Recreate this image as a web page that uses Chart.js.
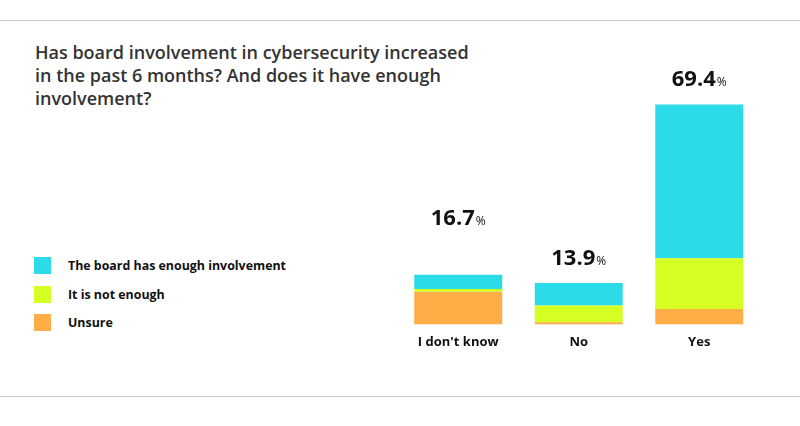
<!DOCTYPE html>
<html>
<head>
<meta charset="utf-8">
<script src="https://cdn.jsdelivr.net/npm/chart.js@4/dist/chart.umd.min.js"></script>
<style>
  html, body { margin: 0; padding: 0; background: #fff; }
  #wrap { position: relative; width: 800px; height: 426px; overflow: hidden; font-family: "Open Sans", Lato, sans-serif; }
  #c { position: absolute; left: 0; top: 0; }
  .rule { position: absolute; left: 0; width: 800px; height: 1px; background: #c8c8c8; }
  #title { position: absolute; left: 35px; top: 41px; font-size: 18px; line-height: 23px; color: #333; font-weight: 600; width: 445px; }
  #legend { position: absolute; left: 34px; top: 257px; }
  .li { position: relative; height: 28.7px; }
  .sw { position: absolute; left: 0; top: 0; width: 17px; height: 17px; }
  .lt { position: absolute; left: 34px; top: 0; line-height: 17px; font-size: 12.4px; font-weight: 700; color: #111; white-space: nowrap; }
</style>
</head>
<body>
<div id="wrap">
  <div class="rule" style="top:20px"></div>
  <div class="rule" style="top:396px"></div>
  <div id="title">Has board involvement in cybersecurity increased in the past 6 months? And does it have enough involvement?</div>
  <div id="legend"></div>
  <canvas id="c" width="800" height="426"></canvas>
</div>
<script>
const categories = ["I don't know", "No", "Yes"];
const totals = [16.7, 13.9, 69.4];
const seriesNames = ["The board has enough involvement", "It is not enough", "Unsure"];
const enoughValues = [4.5, 7.1, 48.5];
const notEnoughValues = [0.9, 5.3, 16.0];
const unsureValues = [10.3, 0.7, 4.9];
const colors = ["#2bdbe8", "#d6ff24", "#ffad47"];

// legend (HTML, built from the series)
const legend = document.getElementById('legend');
seriesNames.forEach((n, i) => {
  const d = document.createElement('div'); d.className = 'li';
  d.innerHTML = '<div class="sw" style="background:' + colors[i] + '"></div><div class="lt"></div>';
  d.querySelector('.lt').textContent = n;
  legend.appendChild(d);
});

const labelOffsets = [50, 18, 19];
const FONT = '"Open Sans", Lato, sans-serif';
const totalLabels = {
  id: 'totalLabels',
  afterDatasetsDraw(chart) {
    const ctx = chart.ctx;
    const meta = chart.getDatasetMeta(0);
    const y = chart.scales.y;
    totals.forEach((t, i) => {
      const x = meta.data[i].x;
      const stackTop = enoughValues[i] + notEnoughValues[i] + unsureValues[i];
      const py = y.getPixelForValue(stackTop) - labelOffsets[i];
      const big = t.toFixed(1);
      ctx.save();
      ctx.fillStyle = '#111';
      ctx.textBaseline = 'alphabetic';
      ctx.textAlign = 'left';
      ctx.font = '700 22px ' + FONT;
      const w1 = ctx.measureText(big).width;
      ctx.font = '400 12px ' + FONT;
      const w2 = ctx.measureText('%').width;
      const sx = x - (w1 + w2 + 1) / 2;
      ctx.font = '700 22px ' + FONT;
      ctx.fillText(big, sx, py);
      ctx.font = '400 12px ' + FONT;
      ctx.fillText('%', sx + w1 + 1, py);
      ctx.restore();
    });
  }
};

new Chart(document.getElementById('c'), {
  type: 'bar',
  data: {
    labels: categories,
    datasets: [
      { label: seriesNames[2], data: unsureValues, backgroundColor: colors[2] },
      { label: seriesNames[1], data: notEnoughValues, backgroundColor: colors[1] },
      { label: seriesNames[0], data: enoughValues, backgroundColor: colors[0] }
    ]
  },
  options: {
    responsive: false,
    animation: false,
    layout: { padding: { left: 398, right: 40.5, top: 71, bottom: 66 } },
    datasets: { bar: { categoryPercentage: 0.73, barPercentage: 1.0, borderWidth: 0 } },
    plugins: { legend: { display: false }, tooltip: { enabled: false }, title: { display: false } },
    scales: {
      x: {
        stacked: true,
        grid: { display: false, drawTicks: false },
        border: { display: false },
        ticks: { padding: 10, color: '#111', font: { family: FONT, size: 13, weight: '700' } }
      },
      y: { stacked: true, display: false, min: 0, max: 80 }
    }
  },
  plugins: [totalLabels]
});
</script>
</body>
</html>
